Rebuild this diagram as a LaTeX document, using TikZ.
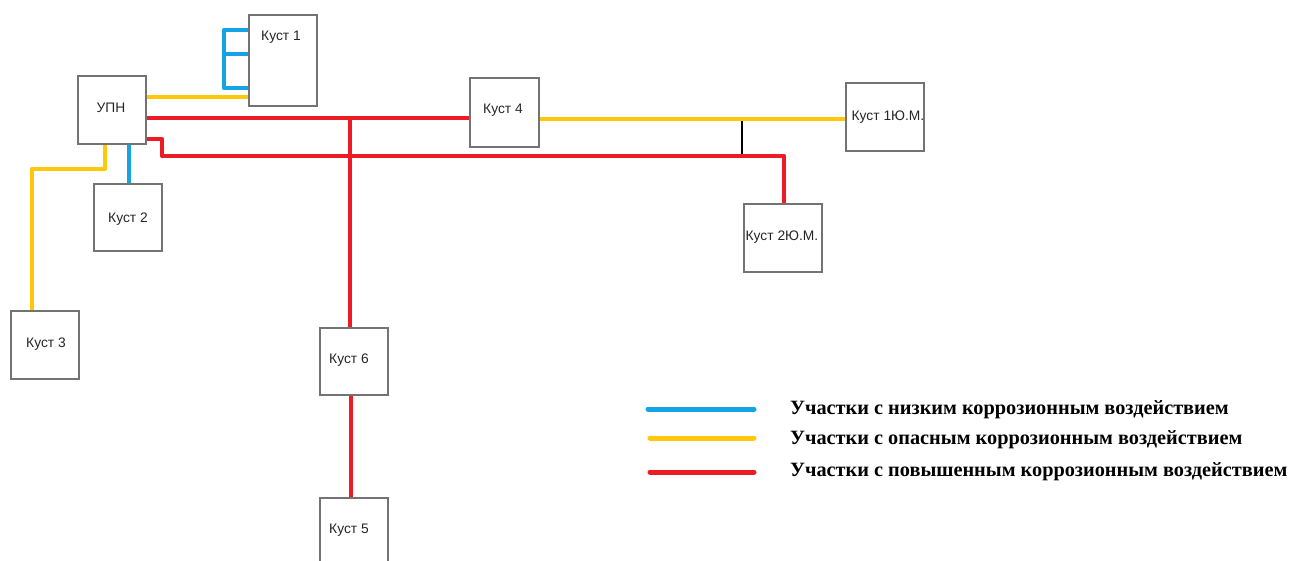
\documentclass[tikz,border=0pt]{standalone}
\usepackage{fontspec}
\setmainfont{Liberation Serif}
\newfontfamily\boxfont{Liberation Sans}
\definecolor{cBlue}{RGB}{20,163,228}
\definecolor{cYel}{RGB}{255,200,10}
\definecolor{cRed}{RGB}{237,28,36}
\definecolor{cGray}{RGB}{115,115,115}
\begin{document}
\begin{tikzpicture}[x=1pt,y=-1pt,
  box/.style={draw=cGray, line width=1.6pt, fill=white, inner sep=0pt, anchor=north west},
  lbl/.style={inner sep=0pt, font=\boxfont\fontsize{13.8}{15}\selectfont, text=black!85},
  pipe/.style={line width=4.5pt, line join=round},
  blu/.style={pipe, draw=cBlue},
  yel/.style={pipe, draw=cYel},
  rd/.style={pipe, draw=cRed},
  legline/.style={line width=5pt, line cap=round},
  legtext/.style={anchor=west, inner sep=0pt, font=\bfseries\fontsize{20.3}{23}\selectfont}]
\useasboundingbox (0,0) rectangle (1291,560);
\clip (0,0) rectangle (1291,560);
% boxes
\node[box, minimum width=68pt, minimum height=68pt] (upn) at (77,75) {};
\node[lbl] (tupn) at (111,108) {УПН};
\node[box, minimum width=68pt, minimum height=91pt] (k1) at (248,14) {};
\node[lbl] (tk1) at (281,37) {Куст 1};
\node[box, minimum width=68pt, minimum height=67pt] (k2) at (93,183) {};
\node[lbl] (tk2) at (128,219) {Куст 2};
\node[box, minimum width=68pt, minimum height=68pt] (k3) at (10,310) {};
\node[lbl] (tk3) at (46,344) {Куст 3};
\node[box, minimum width=68pt, minimum height=67pt] (k6) at (319,327) {};
\node[lbl] (tk6) at (349,360) {Куст 6};
\node[box, minimum width=68pt, minimum height=80pt] (k5) at (319,497) {};
\node[lbl] (tk5) at (349,530) {Куст 5};
\node[box, minimum width=69pt, minimum height=69pt] (k4) at (469,77) {};
\node[lbl] (tk4) at (503,110) {Куст 4};
\node[box, minimum width=78pt, minimum height=68pt] (k1ym) at (845,82) {};
\node[lbl] (tk1ym) at (888,117) {Куст 1Ю.М.};
\node[box, minimum width=78pt, minimum height=68pt] (k2ym) at (743,203) {};
\node[lbl] (tk2ym) at (782,237) {Куст 2Ю.М.};
% connectors
\draw[line width=2pt, black] (742,119) -- (742,156);
\draw[blu] (k1.west |- 0,30) -| (224,88) -- (k1.west |- 0,88);
\draw[blu] (224,54) -- (k1.west |- 0,54);
\draw[yel] (upn.east |- 0,97) -- (k1.west |- 0,97);
\draw[rd] (upn.east |- 0,118) -- (k4.west |- 0,118);
\draw[rd] (350,118) -- (k6.north -| 350,0);
\draw[rd] (k6.south -| 351,0) -- (k5.north -| 351,0);
\draw[rd] (upn.east |- 0,139) -| (162,156) -| (k2ym.north -| 784,0);
\draw[yel] (k4.east |- 0,119) -- (k1ym.west |- 0,119);
\draw[yel] (upn.south -| 105,0) |- (32,169) -- (k3.north -| 32,0);
\draw[blu] (upn.south -| 129,0) -- (k2.north -| 129,0);
% legend
\coordinate (lb1) at (648,409); \coordinate (lb2) at (754,409);
\coordinate (ly1) at (650,438); \coordinate (ly2) at (754,438);
\coordinate (lr1) at (650,472); \coordinate (lr2) at (754,472);
\draw[legline, cBlue] (lb1) -- (lb2);
\draw[legline, cYel] (ly1) -- (ly2);
\draw[legline, cRed] (lr1) -- (lr2);
\node[legtext] (t1) at (790,410) {Участки с низким коррозионным воздействием};
\node[legtext] (t2) at (790,440) {Участки с опасным коррозионным воздействием};
\node[legtext] (t3) at (790,472) {Участки с повышенным коррозионным воздействием};
\end{tikzpicture}
\end{document}
